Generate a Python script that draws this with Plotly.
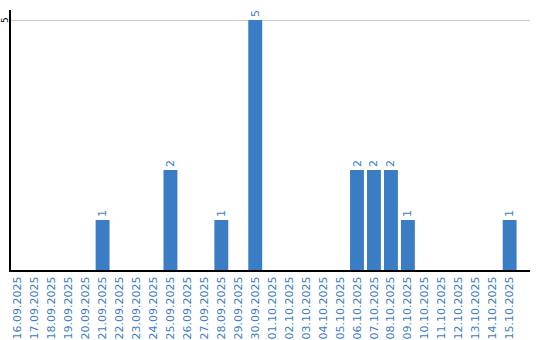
import plotly.graph_objects as go

dates = ["16.09.2025","17.09.2025","18.09.2025","19.09.2025","20.09.2025","21.09.2025",
         "22.09.2025","23.09.2025","24.09.2025","25.09.2025","26.09.2025","27.09.2025",
         "28.09.2025","29.09.2025","30.09.2025","01.10.2025","02.10.2025","03.10.2025",
         "04.10.2025","05.10.2025","06.10.2025","07.10.2025","08.10.2025","09.10.2025",
         "10.10.2025","11.10.2025","12.10.2025","13.10.2025","14.10.2025","15.10.2025"]
values = [0,0,0,0,0,1, 0,0,0,2,0,0, 1,0,5,0,0,0, 0,0,2,2,2,1, 0,0,0,0,0,1]
labels = [str(v) if v > 0 else "" for v in values]
y_ticks = [5]

blue = "#3b7dc4"

fig = go.Figure(go.Bar(
    x=dates, y=values, text=labels, textposition="outside", textangle=-90,
    textfont=dict(color=blue, size=11, family="DejaVu Sans"),
    marker=dict(color=blue, line=dict(width=0)), cliponaxis=False,
))
fig.update_layout(
    width=540, height=340, margin=dict(l=11, r=10, t=10, b=70),
    paper_bgcolor="white", plot_bgcolor="white", bargap=0.18, showlegend=False,
    font=dict(family="DejaVu Sans", size=11),
)
for t in y_ticks:
    fig.add_annotation(text=str(t), xref="paper", x=0, xanchor="center", xshift=-6,
                       yref="y", y=t, yanchor="middle", textangle=-90, showarrow=False,
                       borderpad=0,
                       font=dict(color="black", size=9, family="DejaVu Sans"))
fig.update_xaxes(type="category", range=[-0.4, 30.2], tickangle=-90, automargin=False,
                 tickfont=dict(color=blue, size=11), showline=True, linecolor="black",
                 linewidth=2, showgrid=False, ticks="")
fig.update_yaxes(range=[0, 5.2], tickvals=y_ticks, showticklabels=False, automargin=False,
                 showline=True, linecolor="black",
                 linewidth=2, showgrid=True, gridcolor="#cccccc", gridwidth=1,
                 zeroline=False, ticks="")
fig.write_html("out.html")
